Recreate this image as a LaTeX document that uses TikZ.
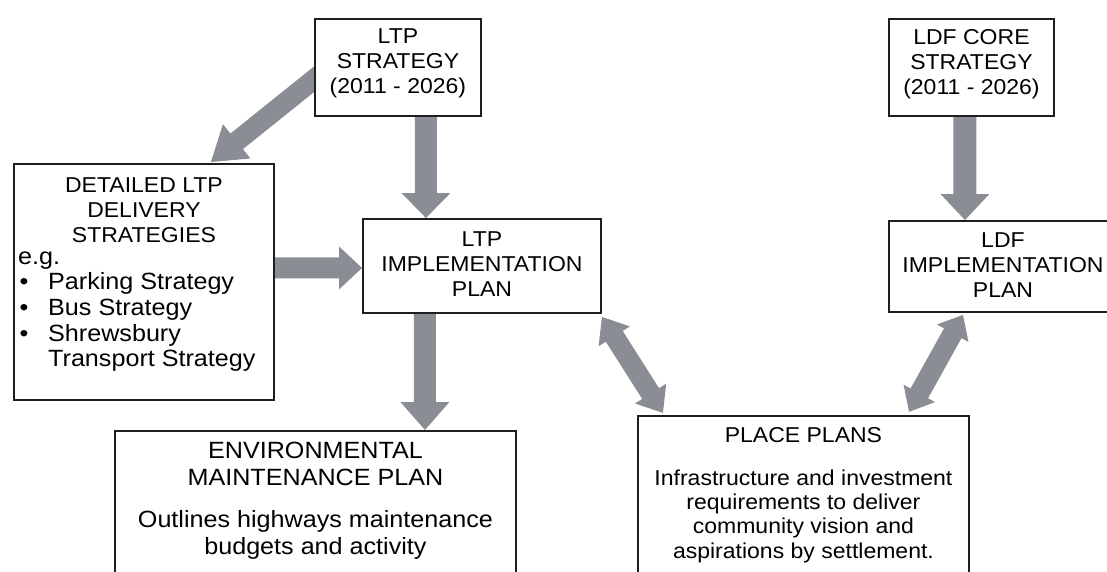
\documentclass[tikz,border=0pt]{standalone}
\usepackage{fontspec}
\setmainfont{Liberation Sans}[FakeStretch=1.07]
\usetikzlibrary{calc,backgrounds}
\definecolor{arrowgray}{RGB}{138,141,148}
\definecolor{edgecol}{RGB}{30,30,30}
% single fat arrow: #1 from, #2 tip, #3 shaft width, #4 head width, #5 head length
\newcommand\fatarrow[5]{%
  \path let \p1=(#1), \p2=(#2), \n1={veclen(\x2-\x1,\y2-\y1)}, \n2={atan2(\y2-\y1,\x2-\x1)} in
    \pgfextra{\xdef\fL{\n1}\xdef\fA{\n2}\xdef\fX{\x1}\xdef\fY{\y1}};
  \fill[arrowgray, shift={(\fX,\fY)}, rotate=\fA]
    (0pt,{-(#3)/2}) -- ({\fL-(#5)},{-(#3)/2}) -- ({\fL-(#5)},{-(#4)/2}) -- (\fL,0pt)
    -- ({\fL-(#5)},{(#4)/2}) -- ({\fL-(#5)},{(#3)/2}) -- (0pt,{(#3)/2}) -- cycle;
}
% double fat arrow between two tips
\newcommand\fatdouble[5]{%
  \path let \p1=(#1), \p2=(#2), \n1={veclen(\x2-\x1,\y2-\y1)}, \n2={atan2(\y2-\y1,\x2-\x1)} in
    \pgfextra{\xdef\fL{\n1}\xdef\fA{\n2}\xdef\fX{\x1}\xdef\fY{\y1}};
  \fill[arrowgray, shift={(\fX,\fY)}, rotate=\fA]
    (0pt,0pt) -- (#5,{-(#4)/2}) -- (#5,{-(#3)/2}) -- ({\fL-(#5)},{-(#3)/2}) -- ({\fL-(#5)},{-(#4)/2})
    -- (\fL,0pt) -- ({\fL-(#5)},{(#4)/2}) -- ({\fL-(#5)},{(#3)/2}) -- (#5,{(#3)/2}) -- (#5,{(#4)/2}) -- cycle;
}
\newcommand\fst{\rule{0pt}{17pt}}
\newcommand\fsb{\rule{0pt}{18pt}}
\newcommand\bul{\makebox[30pt][l]{\hspace{1.5pt}\textbullet}}
\begin{document}
\begin{tikzpicture}[x=1pt,y=-1pt,
  box/.style={draw=edgecol, line width=1.9pt, fill=white, rectangle, inner sep=0pt, anchor=north west},
  txt/.style={align=center, inner sep=0pt, anchor=north, text=black, font={\fontsize{21.5}{25}\selectfont}},
  bigtxt/.style={align=center, inner sep=0pt, anchor=north, text=black, font={\fontsize{23.5}{27}\selectfont}},
  placetxt/.style={align=center, inner sep=0pt, anchor=north, text=black, font={\fontsize{21.5}{24.4}\selectfont}},
  lsttxt/.style={align=left, inner sep=0pt, anchor=north west, text=black, font={\fontsize{23.5}{25.6}\selectfont}}]
\path[use as bounding box] (0,0) rectangle (1107,572);
\clip (0,0) rectangle (1107,572);

% boxes
\node[box, minimum width=166pt, minimum height=97pt] (ltps) at (314,18) {};
\node[box, minimum width=165pt, minimum height=97pt] (ldfc) at (888,18) {};
\node[box, minimum width=260pt, minimum height=236pt] (det) at (13,163) {};
\node[box, minimum width=238pt, minimum height=94pt] (ltpi) at (362,218) {};
\node[box, minimum width=228pt, minimum height=91pt] (ldfi) at (888,220) {};
\node[box, minimum width=401pt, minimum height=200pt] (env) at (114,430) {};
\node[box, minimum width=331pt, minimum height=200pt] (place) at (637,415) {};

% arrows behind the boxes
\begin{pgfonlayer}{background}
\fatarrow{$(ltps.west)+(16,-1)$}{$(det.north)+(67,-1)$}{20pt}{44pt}{33pt}
\fatarrow{$(ltps.south)+(28,-5)$}{$(ltpi.north)+(-56,0)$}{22pt}{49pt}{25pt}
\fatarrow{$(ldfc.south)+(-6.5,-5)$}{$(ldfi.north -| ldfc.south)+(-6.5,0)$}{23pt}{49pt}{26pt}
\fatarrow{$(det.east)+(-5,-14)$}{$(ltpi.west)+(0,2)$}{21pt}{43pt}{23pt}
\fatarrow{$(ltpi.south)+(-57,-5)$}{$(env.north)+(109.5,0)$}{22pt}{49pt}{28pt}
\fatdouble{$(ltpi.south east)+(0,3)$}{$(place.north)+(-140.5,-2)$}{20pt}{37pt}{23pt}
\fatdouble{$(ldfi.south)+(-40,2)$}{$(place.north)+(105.5,-3)$}{20pt}{36pt}{21pt}
\end{pgfonlayer}

% texts
\node[txt] (ltpsT) at ($(ltps.north)+(0,8)$) {\fst LTP\\STRATEGY\\(2011 - 2026)};
\node[txt] (ldfcT) at ($(ldfc.north)+(0,9)$) {\fst LDF CORE\\STRATEGY\\(2011 - 2026)};
\node[txt] (detH) at ($(det.north)+(0,12)$) {\fst DETAILED LTP\\DELIVERY\\STRATEGIES};
\node[lsttxt] (detL) at ($(det.north west)+(5,83)$) {\fsb e.g.\\
  \bul Parking Strategy\\
  \bul Bus Strategy\\
  \bul Shrewsbury\\
  \hspace*{30pt}Transport Strategy};
\node[txt] (ltpiT) at ($(ltpi.north)+(0,11)$) {\fst LTP\\IMPLEMENTATION\\PLAN};
\node[txt] (ldfiT) at ($(ldfi.north)+(0,10)$) {\fst LDF\\IMPLEMENTATION\\PLAN};
\node[bigtxt] (envT) at ($(env.north)+(0,10)$) {\fsb ENVIRONMENTAL\\MAINTENANCE PLAN\\[15pt]Outlines highways maintenance\\budgets and activity};
\node[placetxt] (placeT) at ($(place.north)+(0,10)$) {\fst PLACE PLANS\\[18.5pt]Infrastructure and investment\\requirements to deliver\\community vision and\\aspirations by settlement.};
\end{tikzpicture}
\end{document}
